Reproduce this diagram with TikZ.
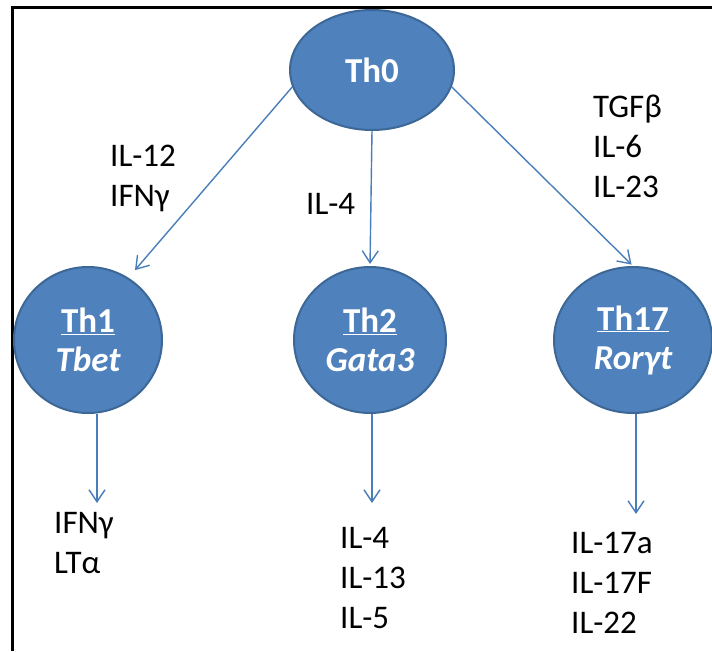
\documentclass[tikz,border=0pt]{standalone}
\usepackage{fontspec}
\setmainfont{Carlito}
\usetikzlibrary{arrows.meta,shapes.geometric}
\definecolor{cellfill}{HTML}{4F81BD}
\definecolor{celledge}{HTML}{3C6796}
\definecolor{arrowblue}{HTML}{4A7EBB}
\tikzset{
  cell/.style={ellipse, draw=celledge, line width=2pt, fill=cellfill,
    text=white, inner sep=0pt, align=center,
    font=\fontsize{35}{41}\selectfont\bfseries},
  arr/.style={draw=arrowblue, line width=1.4pt,
    -{Straight Barb[length=12pt,width=16pt]}},
  cyto/.style={anchor=north west, inner sep=0pt, align=left,
    font=\fontsize{33}{40}\selectfont},
  frame/.style={line width=3pt, black}
}
\begin{document}
\begin{tikzpicture}[x=1pt,y=-1pt]
\useasboundingbox (0,0) rectangle (712,651);
% partial frame: top and left edges
\draw[frame] (12.5,651) -- (12.5,7.5) -- (712,7.5);

% T helper cell subsets
\node[cell, minimum width=164pt, minimum height=120pt] (th0) at (372,70) {Th0};
\node[cell, minimum width=148pt, minimum height=146pt] (th1) at (88,340)
  {\underline{Th1}\\[-2pt]{\itshape Tbet}};
\node[cell, minimum width=152pt, minimum height=146pt] (th2) at (370,340)
  {\underline{Th2}\\[-2pt]{\itshape Gata3}};
\node[cell, minimum width=158pt, minimum height=146pt] (th17) at (633,340)
  {\underline{Th17}\\[-2pt]{\itshape Rorγt}};

% polarising cytokines
\node[cyto] (a) at (110,145) {IL-12\\IFNγ};
\node[cyto] (b) at (306,193) {IL-4};
\node[cyto] (c) at (593,95) {TGFβ\\IL-6\\IL-23};

% secreted cytokines
\node[cyto] (d) at (54,512) {IFNγ\\LTα};
\node[cyto] (e) at (340,527) {IL-4\\IL-13\\IL-5};
\node[cyto] (f) at (571,532) {IL-17a\\IL-17F\\IL-22};

% differentiation arrows
\draw[arr, shorten >=10pt] (th0.192) -- (th1.57);
\draw[arr, shorten >=2pt] (th0.south) -- (th2.north);
\draw[arr, shorten >=2pt] (th0.348) -- (th17.north);

% secretion arrows
\coordinate (d1) at (97,503);
\coordinate (e1) at (372,503);
\coordinate (f1) at (636,514);
\draw[arr] (th1.south -| d1) -- (d1);
\draw[arr] (th2.south -| e1) -- (e1);
\draw[arr] (th17.south -| f1) -- (f1);
\end{tikzpicture}
\end{document}
